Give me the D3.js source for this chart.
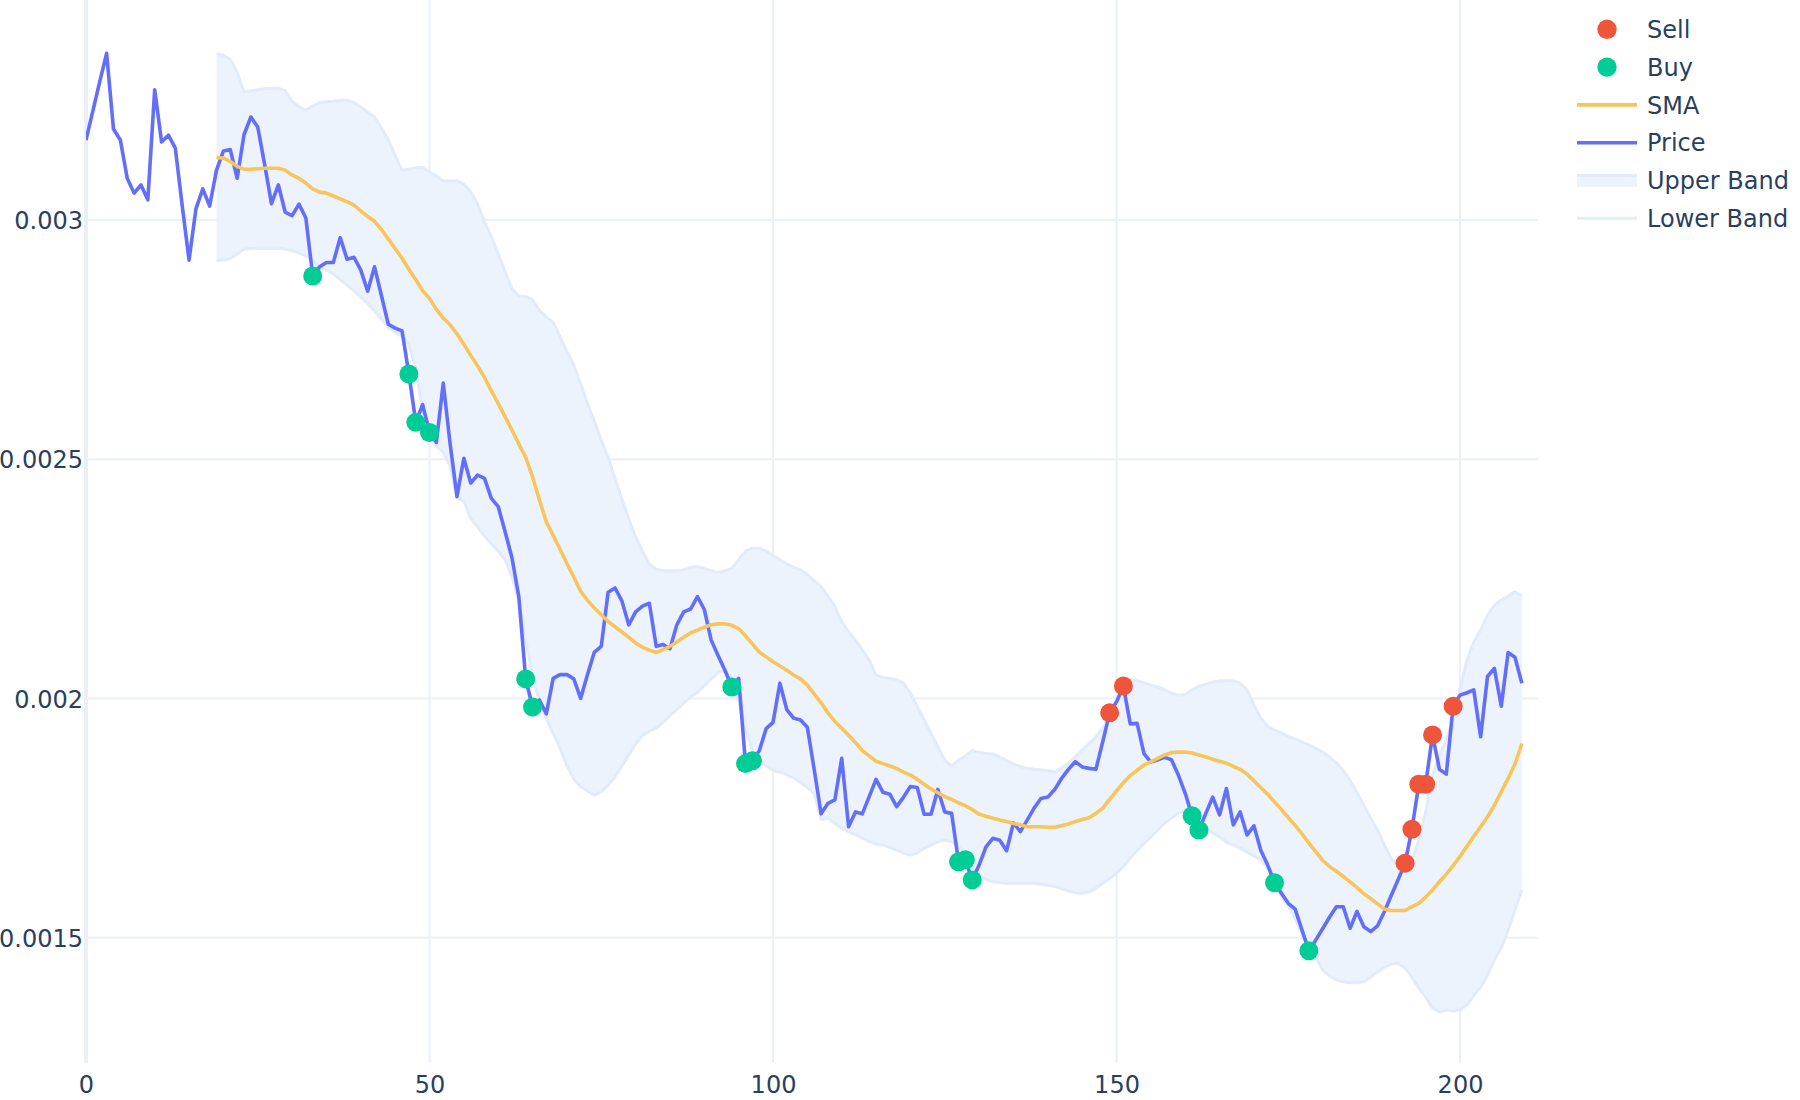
<!DOCTYPE html>
<html>
<head>
<meta charset="utf-8">
<script src="https://cdn.jsdelivr.net/npm/d3@7"></script>
<style>
  html, body { margin: 0; padding: 0; background: #fff; }
  svg { display: block; font-family: "DejaVu Sans", Verdana, sans-serif; }
</style>
</head>
<body>
<svg id="chart" width="1800" height="1100"></svg>
<script>
// ---------------- data ----------------
const price = [
  0.003167,0.003228,0.003289,0.003348,0.003190,0.003167,0.003087,0.003056,0.003073,0.003042,
  0.003272,0.003163,0.003177,0.003150,0.003030,0.002916,0.003023,0.003065,0.003029,0.003104,
  0.003144,0.003147,0.003087,0.003178,0.003215,0.003194,0.003116,0.003034,0.003073,0.003016,
  0.003009,0.003033,0.003004,0.002883,0.002902,0.002911,0.002911,0.002963,0.002918,0.002922,
  0.002895,0.002851,0.002902,0.002842,0.002782,0.002774,0.002768,0.002678,0.002577,0.002614,
  0.002556,0.002535,0.002659,0.002532,0.002422,0.002502,0.002450,0.002467,0.002460,0.002418,
  0.002401,0.002349,0.002294,0.002213,0.002041,0.001982,0.001997,0.001968,0.002042,0.002050,
  0.002050,0.002041,0.002000,0.002050,0.002097,0.002109,0.002222,0.002231,0.002204,0.002154,
  0.002181,0.002193,0.002199,0.002109,0.002113,0.002104,0.002154,0.002181,0.002187,0.002213,
  0.002186,0.002122,0.002090,0.002059,0.002024,0.002042,0.001864,0.001870,0.001891,0.001937,
  0.001950,0.002032,0.001977,0.001959,0.001955,0.001940,0.001851,0.001759,0.001781,0.001788,
  0.001875,0.001732,0.001763,0.001759,0.001795,0.001831,0.001804,0.001800,0.001774,0.001794,
  0.001816,0.001814,0.001758,0.001758,0.001810,0.001763,0.001760,0.001659,0.001663,0.001621,
  0.001652,0.001690,0.001708,0.001704,0.001682,0.001740,0.001722,0.001746,0.001771,0.001791,
  0.001794,0.001810,0.001833,0.001852,0.001868,0.001857,0.001854,0.001852,0.001910,0.001970,
  0.001993,0.002026,0.001947,0.001948,0.001885,0.001867,0.001872,0.001877,0.001872,0.001840,
  0.001802,0.001755,0.001725,0.001760,0.001794,0.001757,0.001812,0.001736,0.001763,0.001715,
  0.001734,0.001683,0.001652,0.001615,0.001593,0.001572,0.001560,0.001516,0.001473,0.001495,
  0.001519,0.001543,0.001565,0.001565,0.001520,0.001555,0.001523,0.001513,0.001525,0.001555,
  0.001589,0.001622,0.001656,0.001727,0.001821,0.001821,0.001924,0.001852,0.001842,0.001984,
  0.002007,0.002012,0.002018,0.001920,0.002046,0.002063,0.001984,0.002096,0.002086,0.002032
];

// SMA and bands start at this index of the price series
const bandStart = 19;

const sma = [
  0.003131,0.003129,0.003122,0.003112,0.003106,0.003106,0.003107,0.003108,0.003108,0.003108,
  0.003104,0.003094,0.003087,0.003077,0.003065,0.003058,0.003056,0.003050,0.003044,0.003038,
  0.003031,0.003019,0.003007,0.002997,0.002980,0.002960,0.002940,0.002920,0.002897,0.002875,
  0.002852,0.002836,0.002813,0.002795,0.002781,0.002762,0.002740,0.002717,0.002695,0.002671,
  0.002643,0.002616,0.002589,0.002561,0.002532,0.002504,0.002463,0.002415,0.002369,0.002341,
  0.002312,0.002282,0.002254,0.002224,0.002205,0.002189,0.002175,0.002161,0.002150,0.002139,
  0.002128,0.002116,0.002107,0.002101,0.002096,0.002102,0.002109,0.002118,0.002128,0.002137,
  0.002143,0.002149,0.002154,0.002156,0.002156,0.002153,0.002146,0.002131,0.002114,0.002097,
  0.002087,0.002077,0.002068,0.002059,0.002049,0.002041,0.002028,0.002009,0.001991,0.001970,
  0.001952,0.001938,0.001923,0.001908,0.001891,0.001880,0.001869,0.001864,0.001859,0.001854,
  0.001846,0.001840,0.001831,0.001821,0.001811,0.001803,0.001795,0.001789,0.001782,0.001776,
  0.001768,0.001758,0.001754,0.001750,0.001746,0.001743,0.001739,0.001736,0.001732,0.001732,
  0.001732,0.001731,0.001731,0.001734,0.001738,0.001743,0.001747,0.001751,0.001760,0.001771,
  0.001789,0.001807,0.001824,0.001839,0.001850,0.001861,0.001868,0.001875,0.001882,0.001887,
  0.001888,0.001888,0.001886,0.001882,0.001878,0.001873,0.001869,0.001865,0.001858,0.001852,
  0.001842,0.001828,0.001814,0.001800,0.001784,0.001768,0.001751,0.001735,0.001717,0.001698,
  0.001680,0.001662,0.001649,0.001639,0.001628,0.001617,0.001605,0.001592,0.001582,0.001571,
  0.001560,0.001557,0.001557,0.001557,0.001565,0.001572,0.001585,0.001600,0.001617,0.001633,
  0.001651,0.001670,0.001691,0.001712,0.001732,0.001753,0.001777,0.001805,0.001833,0.001863,
  0.001906
];

const upperBand = [
  0.003347,0.003344,0.003335,0.003309,0.003267,0.003270,0.003272,0.003274,0.003275,0.003275,
  0.003270,0.003248,0.003236,0.003229,0.003238,0.003245,0.003247,0.003248,0.003250,0.003250,
  0.003245,0.003236,0.003225,0.003215,0.003192,0.003167,0.003135,0.003104,0.003106,0.003109,
  0.003109,0.003100,0.003092,0.003082,0.003081,0.003082,0.003075,0.003059,0.003033,0.002996,
  0.002965,0.002929,0.002892,0.002856,0.002841,0.002840,0.002833,0.002811,0.002797,0.002786,
  0.002756,0.002725,0.002697,0.002657,0.002616,0.002580,0.002539,0.002503,0.002459,0.002417,
  0.002376,0.002338,0.002308,0.002281,0.002270,0.002267,0.002267,0.002267,0.002269,0.002274,
  0.002276,0.002272,0.002267,0.002263,0.002267,0.002272,0.002290,0.002308,0.002314,0.002314,
  0.002308,0.002299,0.002290,0.002281,0.002274,0.002269,0.002260,0.002246,0.002234,0.002214,
  0.002192,0.002160,0.002140,0.002122,0.002101,0.002080,0.002049,0.002044,0.002042,0.002040,
  0.002032,0.002011,0.001983,0.001955,0.001927,0.001899,0.001871,0.001859,0.001871,0.001880,
  0.001891,0.001887,0.001885,0.001884,0.001878,0.001871,0.001863,0.001858,0.001854,0.001852,
  0.001851,0.001849,0.001847,0.001854,0.001865,0.001878,0.001892,0.001906,0.001920,0.001938,
  0.001962,0.001997,0.002020,0.002039,0.002037,0.002033,0.002028,0.002024,0.002018,0.002011,
  0.002007,0.002009,0.002018,0.002026,0.002030,0.002034,0.002037,0.002037,0.002037,0.002032,
  0.002018,0.001986,0.001959,0.001942,0.001934,0.001928,0.001921,0.001915,0.001909,0.001903,
  0.001896,0.001888,0.001878,0.001865,0.001850,0.001829,0.001804,0.001777,0.001750,0.001725,
  0.001693,0.001666,0.001649,0.001641,0.001662,0.001704,0.001763,0.001840,0.001882,0.001913,
  0.001959,0.002018,0.002080,0.002118,0.002143,0.002174,0.002195,0.002206,0.002214,0.002223,
  0.002214
];

const lowerBand = [
  0.002915,0.002916,0.002919,0.002929,0.002939,0.002941,0.002941,0.002941,0.002941,0.002941,
  0.002939,0.002936,0.002931,0.002925,0.002916,0.002899,0.002895,0.002887,0.002876,0.002864,
  0.002852,0.002839,0.002825,0.002810,0.002793,0.002775,0.002765,0.002757,0.002740,0.002690,
  0.002599,0.002565,0.002528,0.002514,0.002485,0.002419,0.002413,0.002376,0.002358,0.002340,
  0.002323,0.002308,0.002290,0.002254,0.002204,0.002122,0.002050,0.001992,0.001959,0.001927,
  0.001896,0.001859,0.001832,0.001816,0.001807,0.001798,0.001805,0.001819,0.001837,0.001859,
  0.001882,0.001905,0.001923,0.001932,0.001938,0.001950,0.001964,0.001977,0.001991,0.002003,
  0.002013,0.002027,0.002041,0.002054,0.002059,0.002041,0.001995,0.001937,0.001891,0.001873,
  0.001859,0.001850,0.001846,0.001841,0.001834,0.001825,0.001814,0.001802,0.001747,0.001750,
  0.001739,0.001729,0.001722,0.001715,0.001708,0.001701,0.001696,0.001694,0.001689,0.001683,
  0.001677,0.001673,0.001677,0.001687,0.001694,0.001701,0.001704,0.001701,0.001690,0.001677,
  0.001649,0.001631,0.001622,0.001617,0.001615,0.001614,0.001614,0.001614,0.001614,0.001614,
  0.001612,0.001610,0.001607,0.001603,0.001598,0.001594,0.001593,0.001596,0.001603,0.001614,
  0.001624,0.001635,0.001649,0.001666,0.001683,0.001697,0.001711,0.001725,0.001739,0.001750,
  0.001760,0.001767,0.001763,0.001746,0.001729,0.001719,0.001711,0.001700,0.001694,0.001688,
  0.001679,0.001671,0.001663,0.001646,0.001625,0.001587,0.001566,0.001541,0.001506,0.001483,
  0.001460,0.001433,0.001420,0.001412,0.001408,0.001406,0.001406,0.001408,0.001418,0.001429,
  0.001439,0.001445,0.001447,0.001437,0.001418,0.001395,0.001376,0.001353,0.001345,0.001349,
  0.001347,0.001349,0.001359,0.001380,0.001397,0.001422,0.001454,0.001479,0.001516,0.001558,
  0.001600
];

const sellIdx = [149, 151, 192, 193, 194, 195, 196, 199];
const buyIdx  = [33, 47, 48, 50, 64, 65, 94, 96, 97, 127, 128, 129, 161, 162, 173, 178];

const xTicks = [0, 50, 100, 150, 200];
const yTicks = [0.0015, 0.002, 0.0025, 0.003];
const yTickLabels = ["0.0015", "0.002", "0.0025", "0.003"];

const legendNames = ["Sell", "Buy", "SMA", "Price", "Upper Band", "Lower Band"];

// ---------------- styling ----------------
const C = {
  price: "#636EFA", sma: "#F7C55A", sell: "#EF553B", buy: "#00CC96",
  bandFill: "#EDF3FD", bandLine: "#E2EBFA", grid: "#EBF0F8", text: "#2A3F5F"
};

const svg = d3.select("#chart");
const plot = { left: 86, right: 1538, top: 0, bottom: 1063 };

const x = d3.scaleLinear().domain([0, 211.35]).range([plot.left, plot.right]);
const y = d3.scaleLinear().domain([0.0012384, 0.0034595]).range([plot.bottom, plot.top]);

svg.append("rect").attr("width", 1800).attr("height", 1100).attr("fill", "#fff");

// grid
const grid = svg.append("g");
grid.selectAll("line.h").data(yTicks).join("line")
  .attr("x1", plot.left).attr("x2", plot.right)
  .attr("y1", d => y(d)).attr("y2", d => y(d))
  .attr("stroke", C.grid).attr("stroke-width", 2);
grid.selectAll("line.v").data(xTicks).join("line")
  .attr("x1", d => x(d)).attr("x2", d => x(d))
  .attr("y1", plot.top).attr("y2", plot.bottom)
  .attr("stroke", C.grid).attr("stroke-width", d => d === 0 ? 4 : 2);

// axes (labels only)
const xAxis = d3.axisBottom(x).tickValues(xTicks).tickSize(0).tickPadding(13).tickFormat(d3.format("d"));
const gx = svg.append("g").attr("transform", `translate(0,${plot.bottom})`).call(xAxis);
gx.select(".domain").remove();
gx.selectAll("text").attr("fill", C.text).style("font-size", "24px")
  .style("font-family", '"DejaVu Sans", Verdana, sans-serif');

const yAxis = d3.axisLeft(y).tickValues(yTicks).tickSize(0).tickPadding(3)
  .tickFormat((d, i) => yTickLabels[i]);
const gy = svg.append("g").attr("transform", `translate(${plot.left},0)`).call(yAxis);
gy.select(".domain").remove();
gy.selectAll("text").attr("fill", C.text).style("font-size", "24px")
  .style("font-family", '"DejaVu Sans", Verdana, sans-serif').attr("dy", "0.36em");

// clip
svg.append("clipPath").attr("id", "clip").append("rect")
  .attr("x", plot.left).attr("y", plot.top)
  .attr("width", plot.right - plot.left).attr("height", plot.bottom - plot.top);
const g = svg.append("g").attr("clip-path", "url(#clip)");

// bands
const bandData = upperBand.map((u, k) => ({ i: k + bandStart, u, l: lowerBand[k] }));
g.append("path").datum(bandData)
  .attr("d", d3.area().x(d => x(d.i)).y0(d => y(d.l)).y1(d => y(d.u)))
  .attr("fill", C.bandFill);
g.append("path").datum(bandData)
  .attr("d", d3.line().x(d => x(d.i)).y(d => y(d.l)))
  .attr("fill", "none").attr("stroke", C.bandLine).attr("stroke-width", 3);
g.append("path").datum(bandData)
  .attr("d", d3.line().x(d => x(d.i)).y(d => y(d.u)))
  .attr("fill", "none").attr("stroke", C.bandLine).attr("stroke-width", 3);

// price
g.append("path").datum(price)
  .attr("d", d3.line().x((d, i) => x(i)).y(d => y(d)))
  .attr("fill", "none").attr("stroke", C.price).attr("stroke-width", 3.6)
  .attr("stroke-linejoin", "round");

// SMA
g.append("path").datum(sma)
  .attr("d", d3.line().x((d, k) => x(k + bandStart)).y(d => y(d)))
  .attr("fill", "none").attr("stroke", C.sma).attr("stroke-width", 3.6)
  .attr("stroke-linejoin", "round");

// signals
g.selectAll("circle.buy").data(buyIdx).join("circle")
  .attr("cx", d => x(d)).attr("cy", d => y(price[d])).attr("r", 9.5).attr("fill", C.buy);
g.selectAll("circle.sell").data(sellIdx).join("circle")
  .attr("cx", d => x(d)).attr("cy", d => y(price[d])).attr("r", 9.5).attr("fill", C.sell);

// legend
const lg = svg.append("g");
const rowY = k => 29.3 + k * 37.8;
const symX0 = 1577, symX1 = 1637, symCx = 1607, textX = 1647;
legendNames.forEach((name, k) => {
  const cy = rowY(k);
  if (name === "Sell" || name === "Buy") {
    lg.append("circle").attr("cx", symCx).attr("cy", cy).attr("r", 9.7)
      .attr("fill", name === "Sell" ? C.sell : C.buy);
  } else if (name === "SMA" || name === "Price") {
    lg.append("line").attr("x1", symX0).attr("x2", symX1).attr("y1", cy).attr("y2", cy)
      .attr("stroke", name === "SMA" ? C.sma : C.price).attr("stroke-width", 3.6);
  } else if (name === "Upper Band") {
    lg.append("rect").attr("x", symX0).attr("y", cy - 6.5).attr("width", symX1 - symX0).attr("height", 13)
      .attr("fill", C.bandFill);
    lg.append("line").attr("x1", symX0).attr("x2", symX1).attr("y1", cy - 5).attr("y2", cy - 5)
      .attr("stroke", C.bandLine).attr("stroke-width", 3);
  } else {
    lg.append("line").attr("x1", symX0).attr("x2", symX1).attr("y1", cy).attr("y2", cy)
      .attr("stroke", C.bandLine).attr("stroke-width", 3);
  }
  lg.append("text").attr("x", textX).attr("y", cy + 8.7).text(name)
    .attr("fill", C.text).style("font-size", "24px");
});
</script>
</body>
</html>
